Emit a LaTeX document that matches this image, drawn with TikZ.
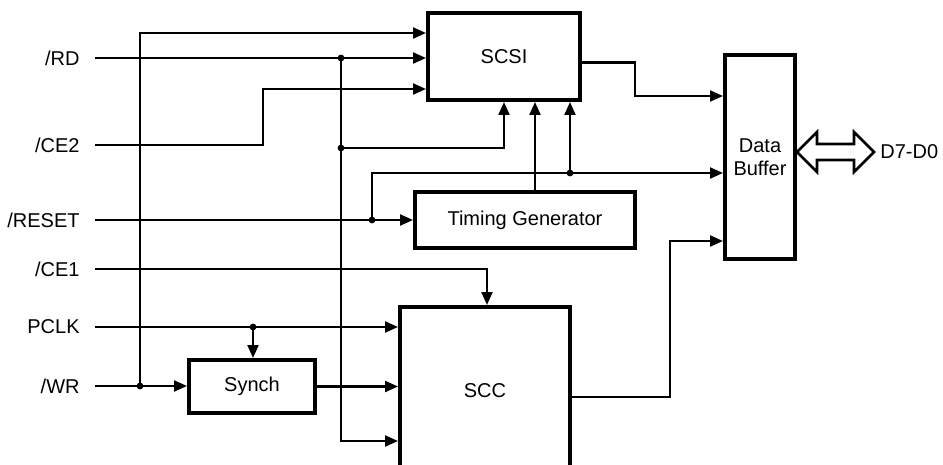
\documentclass[tikz,border=0pt]{standalone}
\usepackage{fontspec}
\setmainfont{Liberation Sans}
\usetikzlibrary{arrows.meta,positioning}
\newcommand{\lbl}{\fontsize{10}{11.5}\selectfont}
\tikzset{box/.style={draw,line width=2pt,inner sep=0pt,align=center,font=\lbl},
 sig/.style={anchor=east,inner xsep=7.5pt,inner ysep=1pt,font=\lbl},
 arr/.style={-{Triangle[length=6.5pt,width=5.5pt]},line width=1.1pt},
 wire/.style={line width=1.1pt}}
\begin{document}
\begin{tikzpicture}[x=0.5pt,y=-0.5pt]
\clip (0,0) rectangle (943,465);
\node[box,minimum width=76pt,minimum height=43.5pt] (scsi) at (504,56.5) {SCSI};
\node[box,minimum width=110pt,minimum height=28pt] (tg) at (525,220) {Timing Generator};
\node[box,minimum width=35pt,minimum height=102pt] (buf) at (760,157) {Data\\Buffer};
\node[box,minimum width=85pt,minimum height=84pt] (scc) at (485,391) {SCC};
\node[box,minimum width=63pt,minimum height=26.5pt] (synch) at (252,386.5) {Synch};
\node[sig] (rd) at (95,58) {/RD};
\node[sig] (ce2) at (95,145) {/CE2};
\node[sig] (reset) at (95,220) {/RESET};
\node[sig] (ce1) at (95,269) {/CE1};
\node[sig] (pclk) at (95,327) {PCLK};
\node[sig] (wr) at (95,386) {/WR};
\node[anchor=west,inner sep=0pt,font=\lbl] (dbus) at (880,152) {D7-D0};
\coordinate (jwr) at (140,386);
\coordinate (jrd) at (341,58);
\coordinate (jce2) at (341,148);
\coordinate (jrst) at (372,220);
\coordinate (jtb) at (570,173);
\coordinate (jclk) at (253,327);
\coordinate (ce2bend) at (263,89);
\coordinate (sccbend) at (670,241);
\coordinate (scsibend) at (635,96);
\draw[arr] (rd.east) -- (rd.east -| scsi.west);
\draw[arr] (jwr) |- ([yshift=-11pt]scsi.north west);
\draw[arr] (ce2.east) -| (ce2bend) -- (ce2bend -| scsi.west);
\draw[arr] (jrd) |- ([yshift=-68pt]scc.north west);
\draw[arr] (jce2) -| (scsi.south);
\draw[arr] (reset.east) -- (tg.west);
\draw[arr] (jrst) |- ([yshift=-8pt]buf.west);
\draw[arr] (jtb) -- (jtb |- scsi.south);
\draw[arr] ([xshift=5pt]tg.north) -- ([xshift=5pt]tg.north |- scsi.south);
\draw[arr] (ce1.east) -| ([xshift=1pt]scc.north);
\draw[arr] (pclk.east) -- (pclk.east -| scc.west);
\draw[arr] (jclk) -- (jclk |- synch.north);
\draw[arr] (wr.east) -- (wr.east -| synch.west);
\draw[arr] (synch.east) -- (synch.east -| scc.west);
\draw[arr] ([yshift=-3pt]scc.east) -| (sccbend) -- (sccbend -| buf.west);
\draw[arr] ([yshift=-3pt]scsi.east) -| (scsibend) -- (scsibend -| buf.west);
\foreach \j in {jwr,jrd,jce2,jrst,jtb,jclk} \fill (\j) circle (3.4);
\draw[wire,line width=1.3pt,line join=miter] ([yshift=2.5pt]buf.east) -- ++(20,-20) -- ++(0,12) -- ++(37,0)
 -- ++(0,-12) -- ++(20,20) -- ++(-20,20) -- ++(0,-12) -- ++(-37,0) -- ++(0,12) -- cycle;
\end{tikzpicture}
\end{document}
